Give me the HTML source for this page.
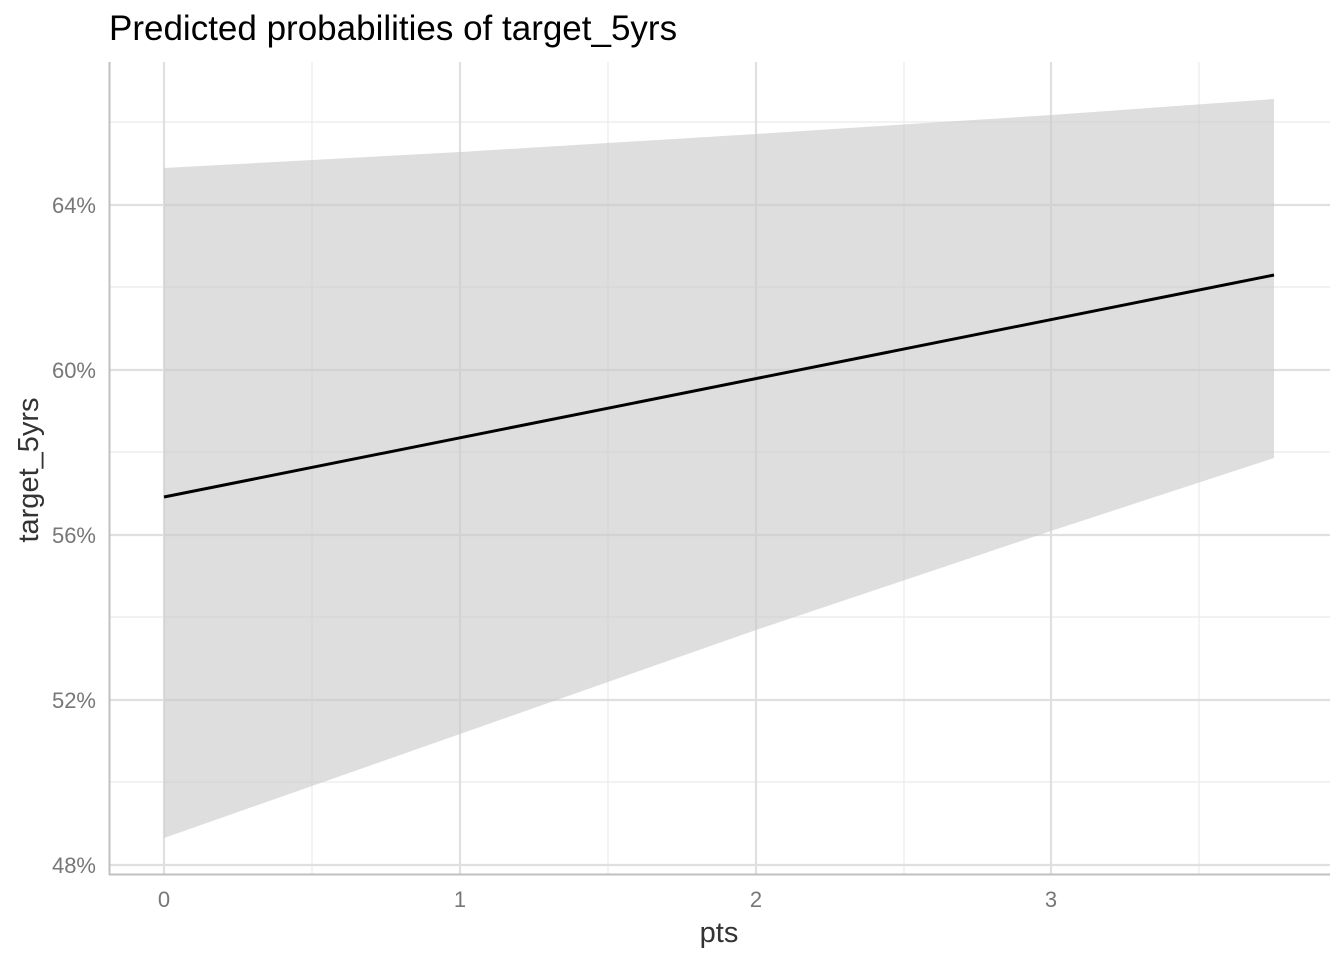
<!DOCTYPE html>
<html><head><style>body{margin:0;background:#fff}</style></head><body>
<svg width="1344" height="960" xmlns="http://www.w3.org/2000/svg" font-family="Liberation Sans, sans-serif">
<rect width="1344" height="960" fill="#fff"/>
<g stroke="#ebebeb" stroke-width="1.2">
<line x1="110" x2="1330" y1="122" y2="122"/><line x1="110" x2="1330" y1="287" y2="287"/><line x1="110" x2="1330" y1="452" y2="452"/><line x1="110" x2="1330" y1="617" y2="617"/><line x1="110" x2="1330" y1="782" y2="782"/>
<line y1="62" y2="875" x1="312" x2="312"/><line y1="62" y2="875" x1="608" x2="608"/><line y1="62" y2="875" x1="904" x2="904"/><line y1="62" y2="875" x1="1199" x2="1199"/>
</g>
<g stroke="#e0e0e0" stroke-width="2.2">
<line x1="110" x2="1330" y1="205" y2="205"/><line x1="110" x2="1330" y1="370" y2="370"/><line x1="110" x2="1330" y1="535" y2="535"/><line x1="110" x2="1330" y1="700" y2="700"/><line x1="110" x2="1330" y1="865" y2="865"/>
<line y1="62" y2="875" x1="164" x2="164"/><line y1="62" y2="875" x1="460" x2="460"/><line y1="62" y2="875" x1="756" x2="756"/><line y1="62" y2="875" x1="1051" x2="1051"/>
</g>
<polygon points="164,168 460,152 756,134 1051,115 1274,99 1274,458 1051,531 756,630 460,734 164,838" fill="#c8c8c8" fill-opacity="0.6"/>
<line x1="164" y1="497" x2="1274" y2="275" stroke="#000" stroke-width="3"/>
<line x1="109.5" y1="62" x2="109.5" y2="875" stroke="#c0c0c0" stroke-width="2"/>
<line x1="109" y1="874.5" x2="1330" y2="874.5" stroke="#c0c0c0" stroke-width="2"/>
<g fill="#777" font-size="22" text-anchor="end">
<text x="96" y="213">64%</text><text x="96" y="378">60%</text><text x="96" y="543">56%</text><text x="96" y="708">52%</text><text x="96" y="873">48%</text>
</g>
<g fill="#777" font-size="22" text-anchor="middle">
<text x="164" y="907">0</text><text x="460" y="907">1</text><text x="756" y="907">2</text><text x="1051" y="907">3</text>
</g>
<text x="719" y="942" font-size="29" fill="#333" text-anchor="middle">pts</text>
<text transform="translate(38,470) rotate(-90)" font-size="29" fill="#333" text-anchor="middle">target_5yrs</text>
<text x="109" y="40" font-size="35" fill="#000">Predicted probabilities of target_5yrs</text>
</svg>
</body></html>
